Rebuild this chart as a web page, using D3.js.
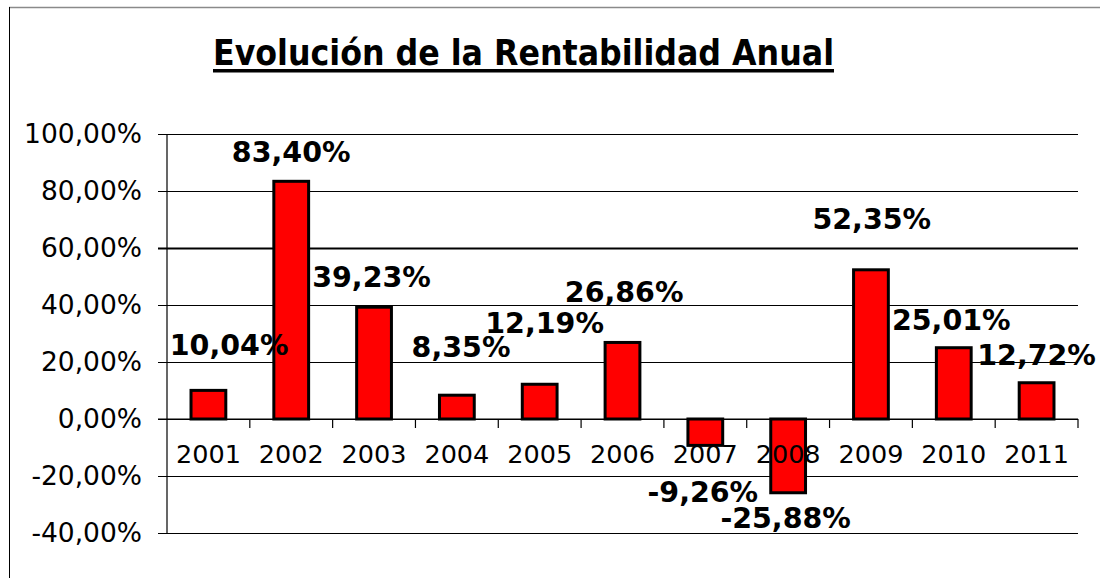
<!DOCTYPE html>
<html>
<head>
<meta charset="utf-8">
<script src="https://cdn.jsdelivr.net/npm/d3@7"></script>
<style>
  body { margin: 0; background: #fff; }
</style>
</head>
<body>
<div id="chart"></div>
<script>
// data
const years = ['2001','2002','2003','2004','2005','2006','2007','2008','2009','2010','2011'];
const rentab = [10.04, 83.40, 39.23, 8.35, 12.19, 26.86, -9.26, -25.88, 52.35, 25.01, 12.72];
const yTicks = [-40, -20, 0, 20, 40, 60, 80, 100];
// where Excel left each data label: [shift in band widths, value level]
const labelShift = [0.25, 0, -0.03, 0.05, 0.06, 0.02, -0.03, -0.03, 0.01, -0.03, 0];
const labelLevel = [22.5, 90.2, 46.3, 21.8, 30.2, 41.0, -29.1, -38.2, 66.7, 31.2, 18.9];

const W = 1100, H = 578;
const margin = {top: 134, right: 22, bottom: 45, left: 167};
const w = W - margin.left - margin.right;
const h = H - margin.top - margin.bottom;

const es = d3.formatLocale({decimal: ',', thousands: '.', grouping: [3], currency: ['', '€'], minus: '-'});
const pct = v => es.format('.2f')(v) + '%';

const svg = d3.select('#chart').append('svg')
  .attr('width', W)
  .attr('height', H);

// frame edges of the copied chart
svg.append('line')
  .attr('x1', 9).attr('x2', W).attr('y1', 7.5).attr('y2', 7.5)
  .attr('stroke', '#8a8a8a').attr('stroke-width', 1.5);
svg.append('line')
  .attr('x1', 9.5).attr('x2', 9.5).attr('y1', 7).attr('y2', H)
  .attr('stroke', '#000').attr('stroke-width', 1);

// title
svg.append('text')
  .attr('x', 213).attr('y', 65)
  .attr('textLength', 621)
  .attr('lengthAdjust', 'spacingAndGlyphs')
  .style('font-family', '"DejaVu Sans Condensed", "Liberation Sans Narrow", sans-serif')
  .style('font-weight', 'bold')
  .style('font-size', '36px')
  .text('Evolución de la Rentabilidad Anual');
svg.append('rect')
  .attr('x', 213).attr('y', 69).attr('width', 621).attr('height', 3.5)
  .attr('fill', '#000');

const g = svg.append('g')
  .attr('transform', `translate(${margin.left},${margin.top})`);

const x = d3.scaleBand().domain(years).range([0, w]).paddingInner(0.58).paddingOuter(0.29);
const xb = d3.scaleBand().domain(years).range([0, w]);
const y = d3.scaleLinear().domain([-40, 100]).range([h, 0]);

// gridlines + y axis
const yAxis = d3.axisLeft(y)
  .tickValues(yTicks)
  .tickSize(-w - 9)
  .tickPadding(16)
  .tickFormat(pct);
const ya = g.append('g')
  .attr('transform', 'translate(-9,0)')
  .call(yAxis);
ya.select('.domain').remove();
ya.selectAll('.tick line')
  .attr('stroke', '#000')
  .attr('stroke-width', d => d === 60 ? 2 : 1.2);
ya.selectAll('.tick text')
  .attr('fill', '#000')
  .style('font-family', 'Verdana, "DejaVu Sans", sans-serif')
  .style('font-size', '26.5px');

g.append('line')
  .attr('x1', 0).attr('x2', 0).attr('y1', 0).attr('y2', h)
  .attr('stroke', '#000').attr('stroke-width', 1.2);

// bars
g.selectAll('rect.bar')
  .data(rentab)
  .enter()
  .append('rect')
    .attr('class', 'bar')
    .attr('x', (d, i) => x(years[i]))
    .attr('width', x.bandwidth())
    .attr('y', d => y(Math.max(0, d)))
    .attr('height', d => Math.abs(y(d) - y(0)))
    .attr('fill', '#ff0000')
    .attr('stroke', '#000')
    .attr('stroke-width', 3);

// category axis on the zero line
const xAxis = d3.axisBottom(xb).tickSize(0).tickPadding(26);
const xa = g.append('g')
  .attr('transform', `translate(0,${y(0)})`)
  .call(xAxis);
xa.select('.domain').remove();
xa.selectAll('.tick text')
  .attr('fill', '#000')
  .style('font-family', 'Verdana, "DejaVu Sans", sans-serif')
  .style('font-size', '25.5px');

g.append('line')
  .attr('x1', -9).attr('x2', w).attr('y1', y(0)).attr('y2', y(0))
  .attr('stroke', '#000').attr('stroke-width', 1.2);
g.selectAll('line.xtick')
  .data(years.slice(1).concat(['end']))
  .enter()
  .append('line')
    .attr('class', 'xtick')
    .attr('x1', (d, i) => (i + 1) * xb.bandwidth())
    .attr('x2', (d, i) => (i + 1) * xb.bandwidth())
    .attr('y1', y(0)).attr('y2', y(0) + 9)
    .attr('stroke', '#000').attr('stroke-width', 1.2);

// data labels
g.selectAll('text.lab')
  .data(rentab)
  .enter()
  .append('text')
    .attr('class', 'lab')
    .attr('x', (d, i) => xb(years[i]) + xb.bandwidth() * (0.5 + labelShift[i]))
    .attr('y', (d, i) => y(labelLevel[i]))
    .attr('text-anchor', 'middle')
    .style('font-family', 'Verdana, "DejaVu Sans", sans-serif')
    .style('font-weight', 'bold')
    .style('font-size', '28.5px')
    .text(d => pct(d));
</script>
</body>
</html>
